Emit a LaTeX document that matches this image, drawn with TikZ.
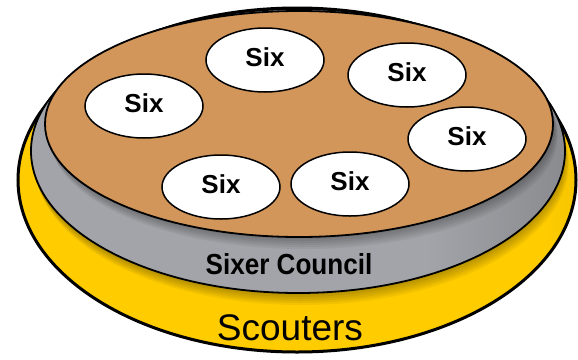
\documentclass[tikz,border=0pt]{standalone}
\usepackage{fontspec}
\setmainfont{Liberation Sans}
\usetikzlibrary{shapes.geometric}
\definecolor{scoutyellow}{RGB}{255,204,0}
\definecolor{scoutgold}{RGB}{196,156,0}
\definecolor{councilgray}{RGB}{163,164,169}
\definecolor{councildark}{RGB}{100,100,104}
\definecolor{packbrown}{RGB}{211,150,90}
\pgfdeclarehorizontalshading{yellowside}{100bp}{color(0bp)=(scoutyellow); color(72bp)=(scoutyellow); color(94bp)=(scoutgold); color(100bp)=(scoutgold)}
\pgfdeclarehorizontalshading{grayside}{100bp}{color(0bp)=(councilgray); color(62bp)=(councilgray); color(95bp)=(councildark); color(100bp)=(councildark)}
\begin{document}
\begin{tikzpicture}[x=1pt,y=-1pt,
    sixnode/.style={ellipse,draw=black,line width=1.5pt,fill=white,inner sep=0pt,text depth=5pt,
        minimum width=118pt,minimum height=64pt,font=\fontsize{26}{28}\selectfont\bfseries},
    plate/.style={draw=black,line width=1.8pt}]
            \useasboundingbox (0,0) rectangle (578,359);
            % yellow base
            \shade[shading=yellowside] (297,180) ellipse [x radius=279pt,y radius=172pt];
            \begin{scope}
                \clip (297,180) ellipse [x radius=279pt,y radius=172pt];
                \foreach \d in {2,4,...,12}
                    \fill[black,opacity=0.05] (297+0.4*\d,151+\d) ellipse [x radius=267pt,y radius=142pt];
            \end{scope}
            \draw[line width=3pt] (297,180) ellipse [x radius=279pt,y radius=172pt];
            % gray council plate
            \shade[shading=grayside] (298,151) ellipse [x radius=267pt,y radius=142pt];
            \begin{scope}
                \clip (298,151) ellipse [x radius=267pt,y radius=142pt];
                \foreach \d in {2,4,...,12}
                    \fill[black,opacity=0.05] (299+0.4*\d,124+\d) ellipse [x radius=254pt,y radius=113pt];
            \end{scope}
            \draw[plate] (298,151) ellipse [x radius=267pt,y radius=142pt];
            % brown top
            \draw[plate,fill=packbrown] (299,124) ellipse [x radius=254pt,y radius=113pt];
            % sixes
            \node[sixnode] (sixtop) at (265,60) {Six};
            \node[sixnode] (sixtopright) at (407,75) {Six};
            \node[sixnode] (sixleft) at (144,106) {Six};
            \node[sixnode] (sixright) at (467,139) {Six};
            \node[sixnode] (sixlow) at (221,187) {Six};
            \node[sixnode] (sixmid) at (350,184) {Six};
            % labels
            \node[font=\fontsize{29}{31}\selectfont\bfseries,xscale=0.9] (council) at (289,264) {Sixer Council};
            \node[font=\fontsize{37}{39}\selectfont] (scouters) at (290,328) {Scouters};
\end{tikzpicture}
\end{document}
